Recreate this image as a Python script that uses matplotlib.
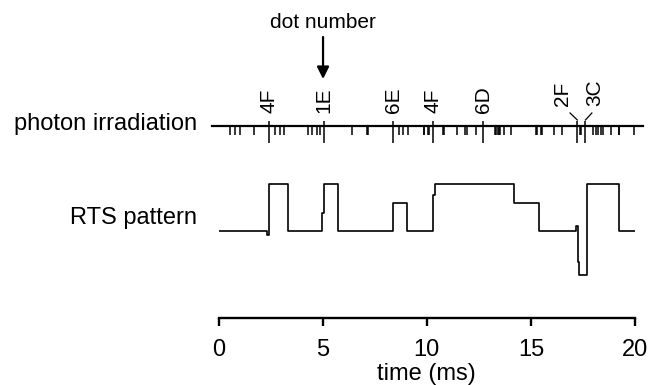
import matplotlib
matplotlib.use("Agg")
import matplotlib.pyplot as plt

plt.rcParams['font.family'] = ['Liberation Sans', 'DejaVu Sans']

# photon detections (ms) along the irradiation line
photon_times = [0.55, 0.79, 1.03, 1.72, 2.71, 2.95, 3.15, 4.31, 4.50, 4.71, 4.87,
                6.41, 7.12, 7.16, 8.68, 8.84, 9.11, 9.85, 9.89, 10.05, 10.09,
                10.77, 10.81, 11.46, 11.83, 11.95, 12.36, 13.28, 13.34, 13.40,
                13.46, 13.52, 13.72, 14.04, 15.26, 15.30, 15.49, 15.53, 16.12,
                16.48, 17.38, 17.42, 17.99, 18.11, 18.23, 18.36, 18.47, 18.84,
                19.21, 19.25, 19.96]

# photons matched to a dot
dot_times = [2.42, 5.07, 8.39, 10.28, 12.71, 17.23, 17.62]
dot_labels = ['4F', '1E', '6E', '4F', '6D', '2F', '3C']

# RTS trace as steps (time in ms, level in arb. units)
rts_t = [0.04, 2.35, 2.42, 3.32, 4.95, 5.08, 5.75, 8.39, 9.07, 10.28, 10.39,
         14.2, 15.39, 17.15, 17.24, 17.30, 17.68, 19.23, 19.99]
rts_level = [0, -0.08, 1, 0, 0.39, 1, 0, 0.61, 0, 0.77, 1, 0.6, 0, 0.1,
             -0.66, -0.94, 1, 0, 0]

W, H = 650, 385
PX_UNIT = 46.7   # pixels per RTS unit
BASE_PX = 231.0  # pixel row of RTS level 0


def py(p):
    # pixel row -> y data value
    return (BASE_PX - p) / PX_UNIT


fig = plt.figure(figsize=(6.5, 3.85), dpi=100)
ax_bottom_px = 317.7
ax = fig.add_axes([218.5 / W, (H - ax_bottom_px) / H, 416.5 / W, ax_bottom_px / H])
ax.set_xlim(0, 20)
ax.set_ylim(py(ax_bottom_px), py(0))

for s in ['top', 'right', 'left']:
    ax.spines[s].set_visible(False)
ax.spines['bottom'].set_linewidth(1.7)
ax.set_yticks([])
ax.set_xticks([0, 5, 10, 15, 20])
ax.tick_params(axis='x', direction='out', length=6, width=1.7, labelsize=17, pad=9)
ax.set_xlabel('time (ms)', fontsize=17, labelpad=2)

# photon irradiation row
line_y = py(126)
ax.plot([-0.31, 20.37], [line_y, line_y], color='black', lw=1.6, clip_on=False)
ax.vlines(photon_times, py(135), line_y, color='black', lw=1.1)
ax.vlines(dot_times, py(143), py(121), color='black', lw=1.1)

label_x = list(dot_times)
label_bottom = [113] * len(dot_times)
label_x[5], label_x[6] = 16.5, 18.05
label_bottom[5], label_bottom[6] = 106, 106
for x, lab, b in zip(label_x, dot_labels, label_bottom):
    ax.text(x, py(b), lab, rotation=90, ha='center', va='bottom', fontsize=15)
ax.plot([dot_times[5], 16.88], [py(120), py(113)], color='black', lw=0.9)
ax.plot([dot_times[6], 17.93], [py(120), py(113)], color='black', lw=0.9)

# dot number arrow
ax.text(5.02, py(23), 'dot number', ha='center', va='center', fontsize=15)
ax.annotate('', xy=(5.02, py(79)), xytext=(5.02, py(37)),
            arrowprops=dict(arrowstyle='-|>', color='black', lw=1.6,
                            mutation_scale=18, shrinkA=0, shrinkB=0))

# RTS pattern
ax.plot(rts_t, rts_level, drawstyle='steps-post', color='black', lw=1.2)

fig.text(196.7 / W, 1 - 124 / H, 'photon irradiation', ha='right', va='center', fontsize=17)
fig.text(196.7 / W, 1 - 218 / H, 'RTS pattern', ha='right', va='center', fontsize=17)

fig.savefig('out.png', dpi=100)
